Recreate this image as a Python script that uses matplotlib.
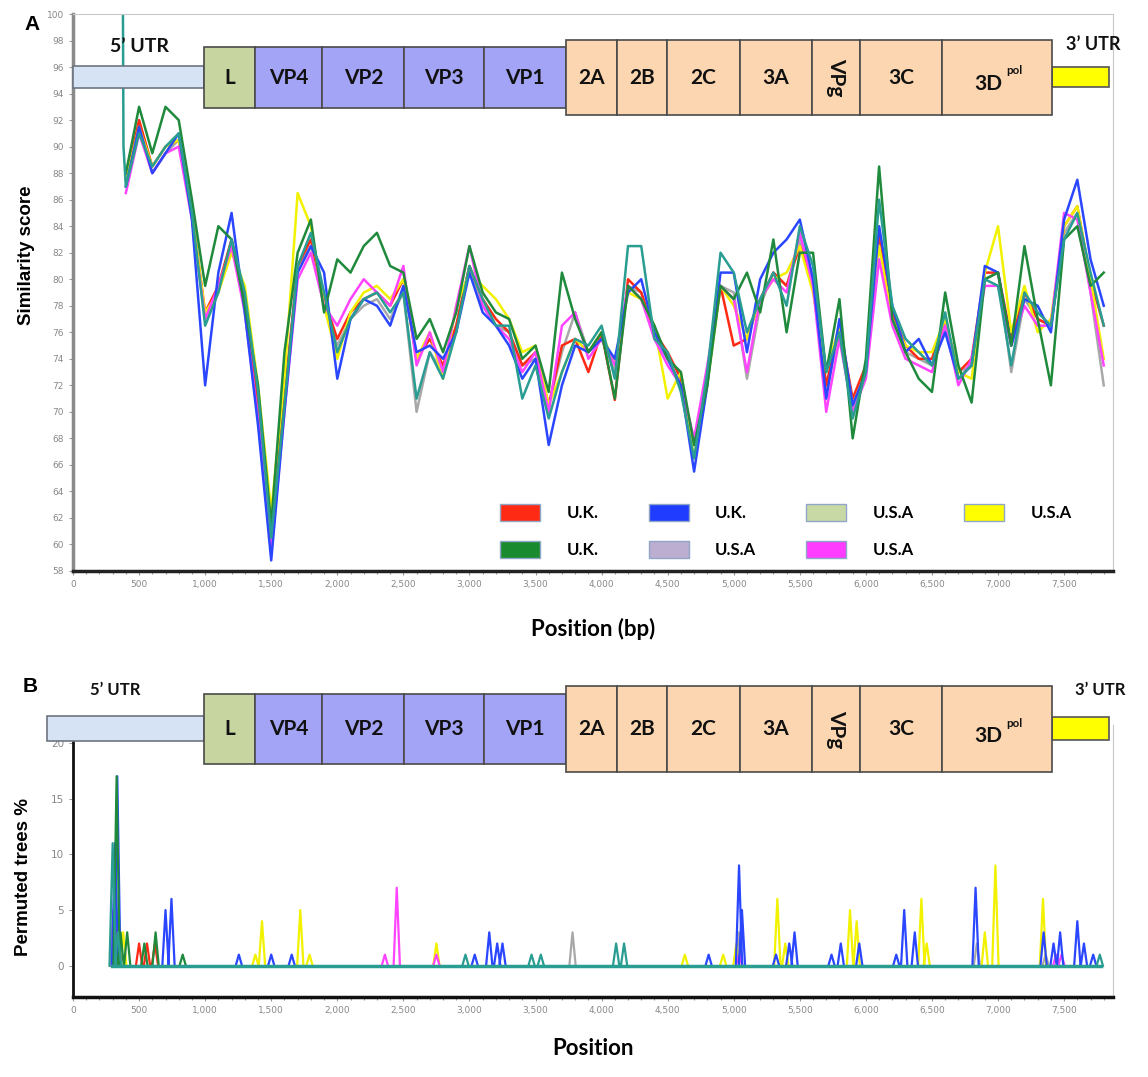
import numpy as np
import matplotlib
matplotlib.use("Agg")
import matplotlib.pyplot as plt
from matplotlib.patches import Rectangle, Patch
from matplotlib.ticker import MultipleLocator, FuncFormatter

# ---- panel A: similarity plot data (x in bp) ----
pos = np.arange(400, 7801, 100)

sim_red = [87.5, 92.0, 88.5, 90.0, 90.5, 85.0, 77.5, 79.5, 83.0, 78.5, 70.5, 61.5, 71.0, 81.0, 83.0,
           78.5, 75.5, 77.5, 78.5, 79.0, 78.0, 80.0, 74.0, 75.5, 73.5, 76.5, 81.0, 78.5, 77.0, 76.0,
           73.5, 74.5, 70.5, 75.0, 75.5, 73.0, 76.0, 70.9, 80.0, 79.0, 76.0, 74.5, 72.5, 67.5, 72.5,
           79.5, 75.0, 75.5, 78.5, 80.5, 79.5, 82.5, 80.0, 72.0, 76.5, 71.0, 73.5, 83.5, 77.5, 75.0,
           74.0, 74.0, 77.0, 73.0, 74.0, 80.5, 80.5, 75.5, 79.0, 77.0, 76.5, 84.0, 85.5, 80.0, 76.5]
sim_blue = [87.0, 91.5, 88.0, 89.5, 91.0, 84.5, 72.0, 80.5, 85.0, 77.5, 69.0, 58.8, 70.0, 80.5, 82.5,
            80.5, 72.5, 77.0, 78.5, 78.0, 76.5, 79.5, 74.5, 75.0, 74.0, 76.0, 80.5, 77.5, 76.5, 75.0,
            72.5, 74.0, 67.5, 72.0, 75.0, 74.5, 75.5, 74.0, 79.0, 80.0, 76.0, 74.0, 72.0, 65.5, 72.0,
            80.5, 80.5, 74.5, 80.0, 82.0, 83.0, 84.5, 80.0, 71.0, 77.0, 70.5, 73.0, 84.0, 78.0, 74.5,
            75.5, 73.5, 76.0, 72.5, 73.5, 81.0, 80.5, 75.0, 78.5, 78.0, 76.0, 84.5, 87.5, 81.5, 78.0]
sim_green = [88.0, 93.0, 89.5, 93.0, 92.0, 86.0, 79.5, 84.0, 83.0, 78.0, 72.0, 61.5, 74.5, 82.0, 84.5,
             77.5, 81.5, 80.5, 82.5, 83.5, 81.0, 80.5, 75.5, 77.0, 74.5, 77.5, 82.5, 79.0, 77.5, 77.0,
             74.0, 75.0, 71.5, 80.5, 77.0, 74.5, 76.0, 71.0, 79.5, 78.5, 76.5, 74.0, 73.0, 67.5, 72.0,
             79.5, 78.5, 80.5, 77.5, 83.0, 76.0, 82.0, 82.0, 73.0, 78.5, 68.0, 74.0, 88.5, 77.0, 74.5,
             72.5, 71.5, 79.0, 73.5, 70.7, 80.0, 80.5, 75.0, 82.5, 77.0, 72.0, 83.0, 84.0, 79.5, 80.5]
sim_teal = [87.0, 91.0, 88.5, 90.0, 91.0, 85.0, 76.5, 79.0, 83.0, 79.0, 71.5, 60.5, 70.5, 81.0, 83.5,
            79.0, 74.5, 77.0, 78.5, 79.0, 77.5, 79.0, 71.0, 74.5, 72.5, 76.0, 81.0, 78.5, 76.5, 76.5,
            71.0, 73.5, 69.5, 73.0, 75.5, 75.0, 76.5, 72.5, 82.5, 82.5, 75.5, 74.5, 71.5, 66.5, 73.0,
            82.0, 80.5, 76.0, 78.5, 80.5, 78.0, 84.0, 81.0, 73.0, 76.0, 69.5, 73.0, 86.0, 78.0, 75.5,
            74.5, 73.5, 77.5, 72.5, 73.5, 80.0, 79.5, 73.5, 79.0, 77.5, 76.5, 83.0, 85.0, 80.5, 76.5]
sim_magenta = [86.5, 91.0, 88.0, 89.5, 90.0, 84.5, 77.0, 79.5, 82.5, 77.5, 69.5, 59.5, 70.0, 80.0, 82.0,
               78.0, 76.5, 78.5, 80.0, 79.0, 78.0, 81.0, 73.5, 76.0, 73.0, 78.0, 82.5, 78.0, 76.5, 75.5,
               73.0, 74.5, 70.0, 76.5, 77.5, 74.0, 75.5, 73.5, 79.5, 78.5, 75.5, 73.5, 72.0, 68.0, 73.5,
               79.5, 78.5, 73.0, 78.5, 80.0, 79.0, 83.5, 79.5, 70.0, 75.5, 70.0, 72.5, 81.5, 76.5, 74.0,
               73.5, 73.0, 76.5, 72.0, 74.0, 79.5, 79.5, 75.0, 78.0, 76.5, 76.5, 85.0, 84.5, 79.0, 73.5]
sim_yellow = [87.5, 91.5, 88.5, 90.0, 90.5, 85.0, 77.5, 79.0, 82.0, 79.5, 72.0, 62.5, 72.5, 86.5, 84.0,
              78.0, 74.0, 77.5, 79.0, 79.5, 78.5, 80.0, 74.0, 76.0, 72.5, 78.0, 80.5, 79.5, 78.5, 77.0,
              74.5, 75.0, 70.5, 73.0, 75.5, 74.5, 76.0, 73.5, 79.0, 78.5, 76.5, 71.0, 73.0, 66.5, 72.0,
              79.5, 78.0, 75.5, 78.5, 80.0, 80.5, 82.5, 79.0, 73.0, 76.5, 70.5, 73.0, 82.5, 77.0, 75.0,
              74.5, 74.5, 77.0, 73.0, 72.5, 80.5, 84.0, 76.0, 79.5, 76.0, 77.0, 84.0, 85.5, 80.0, 74.0]
sim_gray = [87.0, 91.5, 88.0, 89.5, 90.5, 85.0, 77.0, 79.0, 82.5, 78.0, 70.5, 61.0, 71.0, 81.0, 82.5,
            78.0, 75.0, 77.0, 78.0, 78.5, 77.0, 79.0, 70.0, 74.5, 73.0, 76.5, 81.0, 78.0, 76.5, 76.0,
            73.5, 74.0, 70.5, 74.5, 77.5, 74.5, 75.5, 73.0, 79.5, 79.0, 75.5, 74.0, 72.0, 67.5, 72.5,
            79.5, 79.0, 72.5, 78.0, 80.5, 79.5, 83.0, 79.5, 71.5, 76.0, 70.0, 73.0, 83.0, 77.5, 74.5,
            74.0, 73.5, 76.5, 73.0, 73.5, 80.0, 80.5, 73.0, 78.5, 77.0, 76.5, 83.5, 85.0, 79.0, 72.0]
# the teal line starts with a vertical drop from the top of the plot
teal_start_x = [378, 382]
teal_start_y = [100.0, 90.0]

# ---- panel B: permuted trees %, peaks as (position bp, height %) ----
peaks_blue = [(318, 11), (335, 17), (700, 5), (745, 6), (1255, 1), (1500, 1), (1655, 1), (3040, 1),
              (3150, 3), (3210, 2), (3250, 2), (4810, 1), (5040, 9), (5062, 5), (5320, 1), (5420, 2),
              (5460, 3), (5740, 1), (5810, 2), (5950, 2), (6230, 1), (6290, 5), (6370, 3), (6830, 7),
              (7345, 3), (7420, 2), (7470, 3), (7600, 4), (7650, 2), (7720, 1)]
peaks_green = [(330, 17), (360, 3), (410, 3), (540, 2), (625, 3), (830, 1)]
peaks_red = [(320, 4), (500, 2), (560, 2), (620, 2)]
peaks_magenta = [(305, 5), (2360, 1), (2450, 7), (2750, 1), (5040, 1), (7440, 1), (7480, 1)]
peaks_yellow = [(380, 3), (1380, 1), (1430, 4), (1720, 5), (1790, 1), (2750, 2), (4630, 1), (4920, 1),
                (5020, 2), (5330, 6), (5390, 2), (5880, 5), (5930, 4), (6420, 6), (6460, 2), (6900, 3),
                (6980, 9), (7340, 6)]
peaks_gray = [(3780, 3), (5040, 3), (6840, 2), (7360, 1)]
peaks_teal = [(300, 11), (340, 3), (2970, 1), (3470, 1), (3540, 1), (4110, 2), (4170, 2), (7770, 1)]
b_start, b_end = 295, 7780

# ---- genome map ----
gene_names = ['L', 'VP4', 'VP2', 'VP3', 'VP1', '2A', '2B', '2C', '3A', 'VPg', '3C', '3D']
gene_starts = [990, 1375, 1888, 2508, 3112, 3731, 4116, 4494, 5045, 5589, 5959, 6579]
polyprotein_end = 7409
utr3_end = 7840

legend_labels = ['U.K.', 'U.K.', 'U.K.', 'U.S.A', 'U.S.A', 'U.S.A', 'U.S.A']
legend_colors = ['#ff2a14', '#1a8a2e', '#1f3cff', '#bcaed0', '#c9d9a6', '#ff3cff', '#ffff00']

C_RED, C_BLUE, C_GREEN, C_TEAL = '#ff2a14', '#2a47ff', '#1f8a3c', '#2a9d92'
C_MAG, C_YEL, C_GRAY = '#ff44ff', '#f2f200', '#a8a8a8'

W, H = 1148, 1077
fig = plt.figure(figsize=(W / 100, H / 100), dpi=100)

def rect(l, t, r, b):
    return [l / W, 1 - b / H, (r - l) / W, (b - t) / H]

XMAX = 7870
comma = FuncFormatter(lambda v, p: f'{int(v):,}')

def style_axes(ax):
    ax.set_xlim(0, XMAX)
    ax.xaxis.set_major_locator(MultipleLocator(500))
    ax.xaxis.set_minor_locator(MultipleLocator(100))
    ax.xaxis.set_major_formatter(comma)
    ax.tick_params(axis='both', which='both', direction='out', colors='#999999',
                   labelcolor='#888888', labelsize=6.5, length=3, width=0.8)
    ax.tick_params(axis='x', which='minor', length=2)

# ---- panel A ----
axA = fig.add_axes(rect(73, 14, 1113, 571))
style_axes(axA)
axA.set_ylim(58, 100)
axA.yaxis.set_major_locator(MultipleLocator(2))
for s in ['top', 'right']:
    axA.spines[s].set_color('#c8c8c8')
axA.spines['left'].set_color('#8a8a8a')
axA.spines['left'].set_linewidth(2.5)
axA.spines['bottom'].set_color('#222222')
axA.spines['bottom'].set_linewidth(2.5)

lw = 1.8
axA.plot(pos, sim_gray, color=C_GRAY, lw=lw)
axA.plot(pos, sim_red, color=C_RED, lw=lw)
axA.plot(pos, sim_yellow, color=C_YEL, lw=lw)
axA.plot(pos, sim_magenta, color=C_MAG, lw=lw)
axA.plot(pos, sim_blue, color=C_BLUE, lw=lw)
axA.plot(pos, sim_green, color=C_GREEN, lw=lw)
axA.plot(list(teal_start_x) + list(pos), teal_start_y + sim_teal, color=C_TEAL, lw=lw)

axA.set_ylabel('Similarity score', fontsize=13.5, fontweight='bold', family='Liberation Sans')
axA.yaxis.set_label_coords(-0.037, 0.567)
axA.set_xlabel('Position (bp)', fontsize=16, fontweight='bold', family='Lato')
axA.xaxis.set_label_coords(0.5, -0.085)

handles = [Patch(facecolor=c, edgecolor='#8fa6c6', lw=1) for c in legend_colors]
leg = axA.legend(handles, legend_labels, ncol=4, loc='upper left', bbox_to_anchor=(0.396, 0.148),
                 frameon=False, prop={'family': 'Lato', 'weight': 'bold', 'size': 12},
                 handlelength=2.4, handleheight=1.2, handletextpad=1.6, columnspacing=3.0,
                 labelspacing=1.2)

# ---- panel B ----
axB = fig.add_axes(rect(73, 725, 1113, 997))
style_axes(axB)
axB.set_ylim(-2.8, 21.6)
axB.yaxis.set_major_locator(MultipleLocator(5))
axB.spines['top'].set_visible(False)
axB.spines['right'].set_color('#c8c8c8')
axB.spines['left'].set_color('#111111')
axB.spines['left'].set_linewidth(2)
axB.spines['bottom'].set_color('#111111')
axB.spines['bottom'].set_linewidth(2.5)
axB.tick_params(axis='y', labelsize=7.5)

def draw_peaks(ax, peaks, color, hw=24):
    xs, ys = [], []
    for c, h in peaks:
        xs += [c - hw, c, c + hw, np.nan]
        ys += [0, h, 0, np.nan]
    ax.plot(xs, ys, color=color, lw=1.6)

draw_peaks(axB, peaks_gray, C_GRAY)
draw_peaks(axB, peaks_red, C_RED)
draw_peaks(axB, peaks_yellow, C_YEL)
draw_peaks(axB, peaks_magenta, C_MAG)
draw_peaks(axB, peaks_blue, C_BLUE)
draw_peaks(axB, peaks_green, C_GREEN)
draw_peaks(axB, peaks_teal, C_TEAL)
axB.plot([b_start, b_end], [0, 0], color=C_TEAL, lw=2.5)

axB.set_ylabel('Permuted trees %', fontsize=13.5, fontweight='bold', family='Liberation Sans')
axB.yaxis.set_label_coords(-0.039, 0.44)
axB.set_xlabel('Position', fontsize=16, fontweight='bold', family='Lato')
axB.xaxis.set_label_coords(0.5, -0.15)

# ---- genome maps ----
def genome_bar(box, utr5_start, fs):
    g = fig.add_axes(box)
    g.set_xlim(0, XMAX)
    g.set_ylim(0, 1)
    g.axis('off')
    edges = gene_starts + [polyprotein_end]
    g.add_patch(Rectangle((utr5_start, 0.36), gene_starts[0] - utr5_start, 0.29,
                          facecolor='#d5e3f4', edgecolor='#6d7580', lw=1.2, clip_on=False))
    g.add_patch(Rectangle((polyprotein_end, 0.37), utr3_end - polyprotein_end, 0.27,
                          facecolor='#ffff00', edgecolor='#555555', lw=1.2, clip_on=False))
    for i, name in enumerate(gene_names):
        x0, x1 = edges[i], edges[i + 1]
        if i == 0:
            fc, y0, hh = '#c7d6a1', 0.09, 0.82
        elif i < 5:
            fc, y0, hh = '#a4a4f6', 0.09, 0.82
        else:
            fc, y0, hh = '#fcd6b0', 0.0, 1.0
        g.add_patch(Rectangle((x0, y0), x1 - x0, hh, facecolor=fc, edgecolor='#4a4a4a',
                              lw=1.2, clip_on=False))
        xc = (x0 + x1) / 2
        kw = dict(fontsize=fs, fontweight='bold', family='Lato', color='#111111',
                  ha='center', va='center')
        if name == 'VPg':
            g.text(xc, 0.5, name, rotation=-90, **kw)
        elif name == '3D':
            g.text(xc - 70, 0.42, name, **kw)
            g.annotate('pol', xy=(xc - 70, 0.42), xytext=(13, 9), textcoords='offset points',
                       fontsize=fs * 0.55, fontweight='bold', family='Lato', color='#111111',
                       ha='left', va='center')
        else:
            g.text(xc, 0.5, name, **kw)
    return g

genome_bar(rect(73, 40, 1113, 115), 0, 15)
genome_bar(rect(73, 686, 1113, 772), -200, 15)

tkw = dict(fontweight='bold', family='Lato', color='#111111', ha='center', va='center')
fig.text(140 / W, 1 - 46 / H, '5’ UTR', fontsize=14, **tkw)
fig.text(1093 / W, 1 - 45 / H, '3’ UTR', fontsize=13, **tkw)
fig.text(115 / W, 1 - 690 / H, '5’ UTR', fontsize=12, **tkw)
fig.text(1100 / W, 1 - 690 / H, '3’ UTR', fontsize=12, **tkw)
fig.text(32 / W, 1 - 25 / H, 'A', fontsize=15, fontweight='bold', family='Liberation Sans',
         ha='center', va='center')
fig.text(30 / W, 1 - 686 / H, 'B', fontsize=15, fontweight='bold', family='Liberation Sans',
         ha='center', va='center')

fig.savefig('out.png', dpi=100)
